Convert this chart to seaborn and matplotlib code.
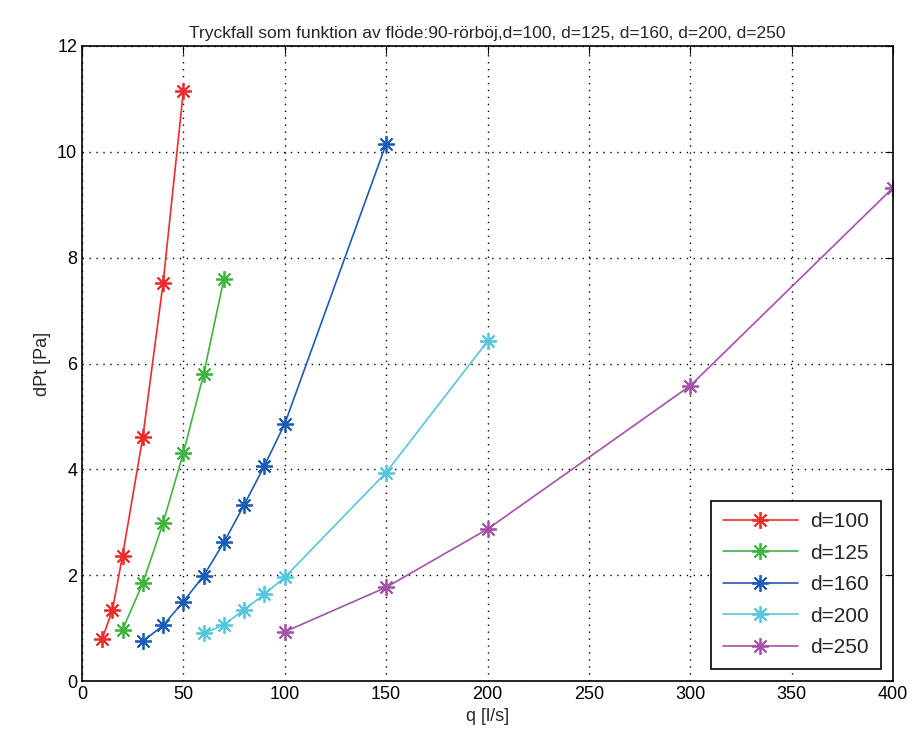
import matplotlib
matplotlib.use("Agg")
import matplotlib.pyplot as plt
import seaborn as sns
import pandas as pd

# data
q_100 = [10, 15, 20, 30, 40, 50]
dp_100 = [0.80, 1.34, 2.37, 4.61, 7.52, 11.15]
q_125 = [20, 30, 40, 50, 60, 70]
dp_125 = [0.97, 1.85, 2.99, 4.31, 5.80, 7.60]
q_160 = [30, 40, 50, 60, 70, 80, 90, 100, 150]
dp_160 = [0.75, 1.05, 1.50, 1.99, 2.62, 3.33, 4.07, 4.86, 10.15]
q_200 = [60, 70, 80, 90, 100, 150, 200]
dp_200 = [0.90, 1.06, 1.35, 1.64, 1.96, 3.94, 6.42]
q_250 = [100, 150, 200, 300, 400]
dp_250 = [0.93, 1.77, 2.87, 5.58, 9.32]

labels = ["d=100", "d=125", "d=160", "d=200", "d=250"]
colors = ["#f22a2a", "#3fb43f", "#1c5cb4", "#55c6dc", "#a452a8"]
series = [(q_100, dp_100), (q_125, dp_125), (q_160, dp_160), (q_200, dp_200), (q_250, dp_250)]

sns.set_style("white")
plt.rcParams['font.family'] = ['Liberation Sans', 'DejaVu Sans']

fig = plt.figure(figsize=(9.13, 7.51), dpi=100)
ax = fig.add_axes([82/913, 70/751, 811/913, 635/751])

for (q, dp), lab, col in zip(series, labels, colors):
    df = pd.DataFrame({"q": q, "dp": dp})
    sns.lineplot(data=df, x="q", y="dp", ax=ax, color=col, label=lab,
                 marker=(8, 2, 0), markersize=12, markeredgewidth=1.3,
                 markeredgecolor=col, markerfacecolor=col,
                 linewidth=1.2, estimator=None, sort=False)

ax.set_xlim(0, 400)
ax.set_ylim(0, 12)
ax.set_xticks(range(0, 401, 50))
ax.set_yticks(range(0, 13, 2))
ax.grid(True, color="black", linestyle=(0, (1, 4)), linewidth=1.0)
for s in ax.spines.values():
    s.set_visible(True)
    s.set_color("black")
    s.set_linewidth(1.2)
ax.tick_params(direction="in", length=6, labelsize=13, top=True, right=True, colors="black")
ax.set_xlabel("q [l/s]", fontsize=13)
ax.set_ylabel("dPt [Pa]", fontsize=13)
ax.set_title("Tryckfall som funktion av flöde:90-rörböj,d=100, d=125, d=160, d=200, d=250", fontsize=12.5)

leg = ax.legend(loc="lower right", fontsize=15, fancybox=False, framealpha=1,
                edgecolor="black", handlelength=3.6, borderaxespad=0.6,
                labelspacing=0.6, borderpad=0.55, handletextpad=0.6)
leg.get_frame().set_linewidth(1.2)

fig.savefig("out.png", dpi=100)
